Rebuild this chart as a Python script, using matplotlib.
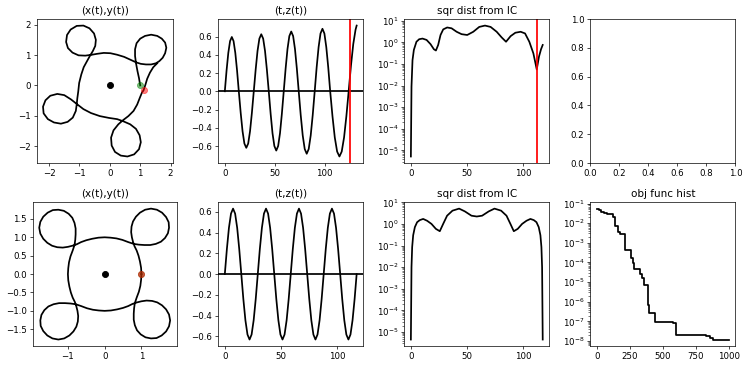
import matplotlib.pyplot as plt

# first guess orbit (not quite periodic)
x_first = [1.00, 0.96, 0.91, 0.88, 0.86, 0.83, 0.83, 0.88, 1.00, 1.16, 1.36, 1.56, 1.71, 1.82, 1.86, 1.82,
           1.74, 1.63, 1.52, 1.36, 1.19, 1.02, 0.86, 0.69, 0.47, 0.24, 0.02, -0.20, -0.42, -0.59, -0.81,
           -1.03, -1.23, -1.38, -1.44, -1.41, -1.29, -1.09, -0.87, -0.67, -0.52, -0.46, -0.48, -0.56, -0.64,
           -0.74, -0.86, -0.94, -1.01, -1.04, -1.07, -1.09, -1.12, -1.22, -1.39, -1.61, -1.84, -2.04, -2.18,
           -2.20, -2.12, -1.96, -1.73, -1.50, -1.28, -1.09, -0.87, -0.62, -0.33, -0.03, 0.24, 0.44, 0.67,
           0.86, 0.98, 1.02, 0.96, 0.80, 0.58, 0.36, 0.17, 0.06, 0.04, 0.12, 0.28, 0.44, 0.61, 0.78, 0.90,
           0.99, 1.06, 1.11, 1.17, 1.23, 1.32, 1.43, 1.56]
y_first = [0.00, 0.24, 0.47, 0.63, 0.74, 0.97, 1.19, 1.39, 1.54, 1.63, 1.67, 1.63, 1.54, 1.41, 1.24, 1.06,
           0.91, 0.80, 0.73, 0.69, 0.69, 0.71, 0.76, 0.84, 0.94, 1.01, 1.06, 1.07, 1.04, 1.01, 0.98,
           0.99, 1.08, 1.23, 1.43, 1.66, 1.84, 1.96, 1.97, 1.88, 1.71, 1.50, 1.30, 1.13, 1.00,
           0.82, 0.60, 0.36, 0.08, -0.20, -0.42, -0.62, -0.84, -1.06, -1.20, -1.26, -1.22, -1.11, -0.92,
           -0.70, -0.49, -0.34, -0.28, -0.32, -0.46, -0.61, -0.78, -0.91, -1.01, -1.07, -1.11, -1.18, -1.28,
           -1.43, -1.64, -1.87, -2.10, -2.27, -2.34, -2.31, -2.19, -1.98, -1.72, -1.48, -1.28, -1.14, -1.01,
           -0.84, -0.63, -0.40, -0.23, -0.16, 0.02, 0.22, 0.42, 0.60, 0.73]
ic_first = (1.00, 0.00)
ret_first = (1.11, -0.16)

# optimised (closed) orbit
x_opt = [1.00, 0.99, 0.96, 0.92, 0.87, 0.81, 0.77, 0.74, 0.72, 0.73, 0.77, 0.85, 0.96, 1.10, 1.26, 1.42,
         1.56, 1.67, 1.74, 1.75, 1.72, 1.64, 1.53, 1.39, 1.24, 1.08, 0.93, 0.79, 0.64, 0.48, 0.32, 0.16, 0.00,
         -0.17, -0.34, -0.50, -0.64, -0.76, -0.88, -1.00, -1.14, -1.29, -1.43, -1.56, -1.67, -1.75, -1.78,
         -1.75, -1.67, -1.55, -1.41, -1.26, -1.11, -0.98, -0.88, -0.82, -0.79, -0.79, -0.80, -0.82, -0.87,
         -0.93, -0.97, -0.99, -1.00,
         -0.99, -0.96, -0.92, -0.87, -0.81, -0.77, -0.74, -0.72, -0.73, -0.77, -0.85, -0.96, -1.10, -1.26,
         -1.42, -1.56, -1.67, -1.74, -1.75, -1.72, -1.64, -1.53, -1.39, -1.24, -1.08, -0.93, -0.79, -0.64,
         -0.48, -0.32, -0.16, 0.00,
         0.17, 0.34, 0.50, 0.64, 0.76, 0.88, 1.00, 1.14, 1.29, 1.43, 1.56, 1.67, 1.75, 1.78, 1.75, 1.67,
         1.55, 1.41, 1.26, 1.11, 0.98, 0.88, 0.82, 0.79, 0.79, 0.80, 0.82, 0.87, 0.93, 0.97, 0.99, 1.00]
y_opt = [0.00, 0.17, 0.34, 0.50, 0.64, 0.76, 0.88, 1.00, 1.14, 1.29, 1.43, 1.56, 1.67, 1.75, 1.78, 1.75,
         1.67, 1.55, 1.41, 1.26, 1.11, 0.98, 0.88, 0.82, 0.79, 0.79, 0.80, 0.82, 0.87, 0.93, 0.97, 0.99, 1.00,
         0.99, 0.96, 0.92, 0.87, 0.81, 0.77, 0.74, 0.72, 0.73, 0.77, 0.85, 0.96, 1.10, 1.26, 1.42, 1.56,
         1.67, 1.74, 1.75, 1.72, 1.64, 1.53, 1.39, 1.24, 1.08, 0.93, 0.79, 0.64, 0.48, 0.32, 0.16, 0.00,
         -0.17, -0.34, -0.50, -0.64, -0.76, -0.88, -1.00, -1.14, -1.29, -1.43, -1.56, -1.67, -1.75, -1.78,
         -1.75, -1.67, -1.55, -1.41, -1.26, -1.11, -0.98, -0.88, -0.82, -0.79, -0.79, -0.80, -0.82, -0.87,
         -0.93, -0.97, -0.99, -1.00,
         -0.99, -0.96, -0.92, -0.87, -0.81, -0.77, -0.74, -0.72, -0.73, -0.77, -0.85, -0.96, -1.10, -1.26,
         -1.42, -1.56, -1.67, -1.74, -1.75, -1.72, -1.64, -1.53, -1.39, -1.24, -1.08, -0.93, -0.79, -0.64,
         -0.48, -0.32, -0.16, 0.00]
ic_opt = (1.00, 0.00)
ret_opt = (1.00, 0.00)

# z(t) of first guess
t_z_first = [0, 1.75, 3.5, 5.25, 7, 8.75, 10.5, 12.25,
             14, 15.9, 17.75, 19.6, 21.5, 23.4, 25.25, 27.1,
             29, 30.9, 32.75, 34.6, 36.5, 38.4, 40.25, 42.1,
             44, 45.9, 47.75, 49.6, 51.5, 53.4, 55.25, 57.1,
             59, 60.9, 62.75, 64.6, 66.5, 68.4, 70.25, 72.1,
             74, 76, 78, 80, 82, 84, 86, 88,
             90, 91.95, 93.9, 95.8, 97.75, 99.7, 101.6, 103.55,
             105.5, 107.8, 110.1, 112.45, 114.75, 117.05, 119.4, 121.7,
             124, 126.3, 128.6, 130.9, 132]
z_first = [0, 0.228, 0.421, 0.550, 0.595, 0.550, 0.421, 0.228,
           0, -0.237, -0.438, -0.573, -0.620, -0.573, -0.438, -0.237,
           0, 0.239, 0.442, 0.577, 0.625, 0.577, 0.442, 0.239,
           0, -0.249, -0.460, -0.600, -0.650, -0.600, -0.460, -0.249,
           0, 0.251, 0.463, 0.605, 0.655, 0.605, 0.463, 0.251,
           0, -0.262, -0.484, -0.633, -0.685, -0.633, -0.484, -0.262,
           0, 0.262, 0.484, 0.633, 0.685, 0.633, 0.484, 0.262,
           0, -0.274, -0.506, -0.661, -0.715, -0.661, -0.506, -0.274,
           0, 0.280, 0.517, 0.675, 0.720]
t_ret_z = 125.0

# z(t) of optimised orbit
t_z_opt = [0, 1.84, 3.67, 5.51, 7.34, 9.18, 11.02, 12.85, 14.69, 16.52, 18.36, 20.2, 22.03, 23.87, 25.7, 27.54,
           29.38, 31.21, 33.05, 34.88, 36.72, 38.56, 40.39, 42.23, 44.06, 45.9, 47.74, 49.57, 51.41, 53.24,
           55.08, 56.92, 58.75, 60.59, 62.42, 64.26, 66.1, 67.93, 69.77, 71.6, 73.44, 75.28, 77.11, 78.95,
           80.78, 82.62, 84.46, 86.29, 88.13, 89.96, 91.8, 93.64, 95.47, 97.31, 99.14, 100.98, 102.82, 104.65,
           106.49, 108.32, 110.16, 112.0, 113.83, 115.67, 117.5]
z_opt = [0, 0.241, 0.445, 0.582, 0.63, 0.582, 0.445, 0.241, 0, -0.241, -0.445, -0.582, -0.63, -0.582, -0.445, -0.241,
         0, 0.241, 0.445, 0.582, 0.63, 0.582, 0.445, 0.241, 0, -0.241, -0.445, -0.582, -0.63, -0.582, -0.445, -0.241,
         0, 0.241, 0.445, 0.582, 0.63, 0.582, 0.445, 0.241, 0, -0.241, -0.445, -0.582, -0.63, -0.582, -0.445, -0.241,
         0, 0.241, 0.445, 0.582, 0.63, 0.582, 0.445, 0.241, 0, -0.241, -0.445, -0.582, -0.63, -0.582, -0.445, -0.241,
         0]

# squared distance from initial condition
t_d_first = [0.05, 0.6, 1.5, 2.7, 5, 7.4, 10.4, 14, 17.5, 20.5, 22.3, 24.3, 26.4, 28.8, 32.3, 36.2, 40.7, 45.1,
             50.1, 55.5, 60.8, 65.9, 70.9, 76.3, 80.7, 84.6, 88.7, 92.9, 97.6, 101.5, 105.3, 108.9, 111.9,
             113.9, 115.7, 117.2]
d_first = [5.2e-6, 0.009, 0.15, 0.45, 1.07, 1.4, 1.5, 1.3, 0.83, 0.48, 0.42, 0.76, 2.2, 4.0, 4.9, 4.5, 3.1, 2.4,
           2.2, 3.1, 5.2, 6.0, 5.2, 3.1, 1.7, 1.07, 1.95, 2.8, 3.1, 2.6, 1.07, 0.31, 0.056,
           0.22, 0.48, 0.76]
t_ret_d = 112.0

t_d_opt = [0.05, 0.6, 1.2, 2.1, 3.6, 5.6, 8.0, 11.0, 14.5, 18.4, 22.3, 25.8, 28.8, 32.3, 37.1, 43.0, 48.1, 54.0,
           58.75, 63.5, 69.4, 74.5, 80.4, 85.2, 88.7, 91.7, 95.2, 99.1, 103.0, 106.5, 109.5, 111.9, 113.9,
           115.4, 116.3, 116.9, 117.45]
d_opt = [4.5e-6, 0.01, 0.085, 0.3, 0.71, 1.2, 1.5, 1.7, 1.4, 1.0, 0.59, 0.46, 1.0, 2.4, 4.1, 5.1, 3.8, 2.4,
         2.2, 2.4, 3.8, 5.1, 4.1, 2.4, 1.0, 0.46, 0.59, 1.0, 1.4, 1.7, 1.5, 1.2, 0.71,
         0.3, 0.085, 0.01, 4.5e-6]

# objective function history (best so far)
obj_iter = [0, 15, 30, 50, 80, 105, 122, 140, 159, 175, 216, 257, 270, 282, 323, 345, 360, 387, 392, 440,
            580, 600, 830, 860, 880, 1000]
obj_val = [0.055, 0.045, 0.038, 0.034, 0.031, 0.028, 0.021, 0.0074, 0.0034, 0.0028, 4.5e-4, 1.6e-4, 8.9e-5,
           4.5e-5, 2.5e-5, 1.6e-5, 7.4e-6, 6.6e-7, 2.8e-7, 9e-8, 8.2e-8, 2.0e-8, 1.8e-8, 1.4e-8, 1.2e-8, 1.2e-8]

lw = 2

fig = plt.figure(figsize=(12, 5.888), dpi=62.34)
axs = fig.subplots(2, 4)
fig.subplots_adjust(left=0.043, right=0.983, bottom=0.057, top=0.948, wspace=0.283, hspace=0.271)

for row, (xo, yo, ic, ret, tz, zz, td, dd) in enumerate([
        (x_first, y_first, ic_first, ret_first, t_z_first, z_first, t_d_first, d_first),
        (x_opt, y_opt, ic_opt, ret_opt, t_z_opt, z_opt, t_d_opt, d_opt)]):
    ax = axs[row, 0]
    ax.plot(xo, yo, 'k', lw=lw)
    ax.plot(0, 0, 'ko', ms=7)
    ax.plot(ic[0], ic[1], 'o', color='g', alpha=0.5, ms=7)
    ax.plot(ret[0], ret[1], 'o', color='r', alpha=0.5, ms=7)
    ax.set_aspect('equal')
    ax.set_title('(x(t),y(t))')

    ax = axs[row, 1]
    ax.plot(tz, zz, 'k', lw=lw)
    ax.axhline(0, color='k', lw=lw)
    ax.set_title('(t,z(t))')

    ax = axs[row, 2]
    ax.semilogy(td, dd, 'k', lw=lw)
    ax.set_title('sqr dist from IC')

axs[0, 1].axvline(t_ret_z, color='r', lw=lw)
axs[0, 2].axvline(t_ret_d, color='r', lw=lw)

ax = axs[1, 3]
ax.step(obj_iter, obj_val, where='post', color='k', lw=lw)
ax.set_yscale('log')
ax.set_title('obj func hist')

fig.savefig('out.png', dpi=62.34)
